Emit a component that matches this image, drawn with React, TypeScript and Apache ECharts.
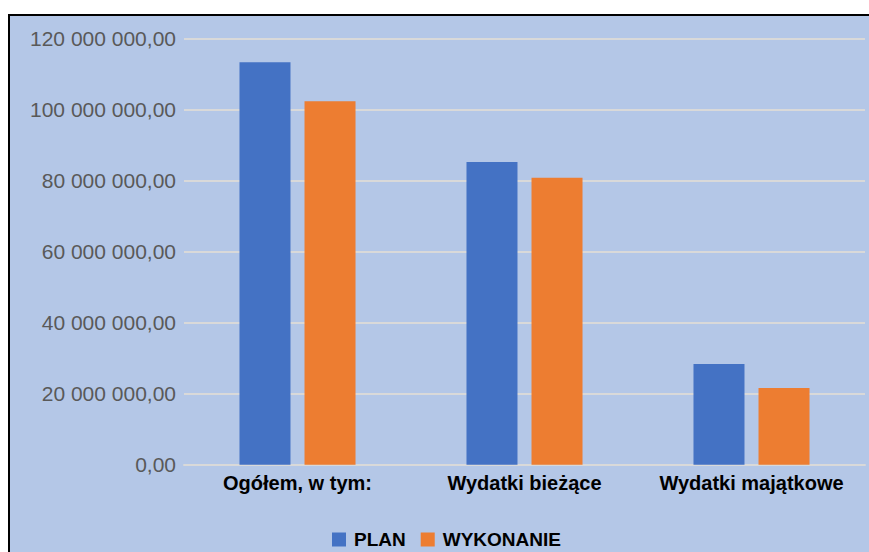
import React, { useEffect, useRef } from "react";
import * as echarts from "echarts";

const categories = ["Ogółem, w tym:", "Wydatki bieżące", "Wydatki majątkowe"];
const planValues = [113400000, 85300000, 28400000];
const wykonanieValues = [102400000, 80800000, 21600000];
const seriesNames = ["PLAN", "WYKONANIE"];

const fmt = (v: number) => {
  const s = Math.round(v).toString().replace(/\B(?=(\d{3})+(?!\d))/g, " ");
  return s + ",00";
};

export default function App() {
  const ref = useRef<HTMLDivElement>(null);
  useEffect(() => {
    if (!ref.current) return;
    const chart = echarts.init(ref.current, null, { renderer: "svg" });
    chart.setOption({
      animation: false,
      backgroundColor: "transparent",
      textStyle: { fontFamily: "'Liberation Sans', sans-serif" },
      grid: { left: 184, right: 4, top: 38.7, bottom: 87.3, containLabel: false },
      legend: {
        data: seriesNames,
        left: 327,
        top: 525,
        itemWidth: 14,
        itemHeight: 14,
        itemGap: 15,
        icon: "rect",
        textStyle: { fontSize: 19, fontWeight: "bold", color: "#000", padding: [0, 0, 0, 3] },
      },
      xAxis: {
        type: "category",
        data: categories,
        axisLine: { show: true, lineStyle: { color: "#D9D9D9", width: 2 } },
        axisTick: { show: false },
        axisLabel: { fontSize: 20, fontWeight: "bold", color: "#000", margin: 8, interval: 0, hideOverlap: false },
      },
      yAxis: {
        type: "value",
        min: 0,
        max: 120000000,
        interval: 20000000,
        axisLine: { show: false },
        axisTick: { show: false },
        splitLine: { lineStyle: { color: "#D9D9D9", width: 2 } },
        axisLabel: { fontSize: 21, color: "#595959", margin: 8, formatter: (v: number) => fmt(v) },
      },
      series: [
        {
          name: seriesNames[0],
          type: "bar",
          data: planValues,
          barWidth: 51,
          barGap: "27.5%",
          itemStyle: { color: "#4472C4" },
        },
        {
          name: seriesNames[1],
          type: "bar",
          data: wykonanieValues,
          barWidth: 51,
          itemStyle: { color: "#ED7D31" },
        },
      ],
    });
    return () => chart.dispose();
  }, []);
  return (
    <div style={{ position: "absolute", left: 0, top: 0, width: 869, height: 552, background: "#fff", overflow: "hidden" }}>
      <div
        style={{
          position: "absolute",
          left: 8,
          top: 14,
          width: 900,
          height: 600,
          background: "#B4C7E7",
          borderTop: "2px solid #000",
          borderLeft: "2px solid #000",
        }}
      />
      <div ref={ref} style={{ position: "absolute", left: 0, top: 0, width: 869, height: 552 }} />
    </div>
  );
}
